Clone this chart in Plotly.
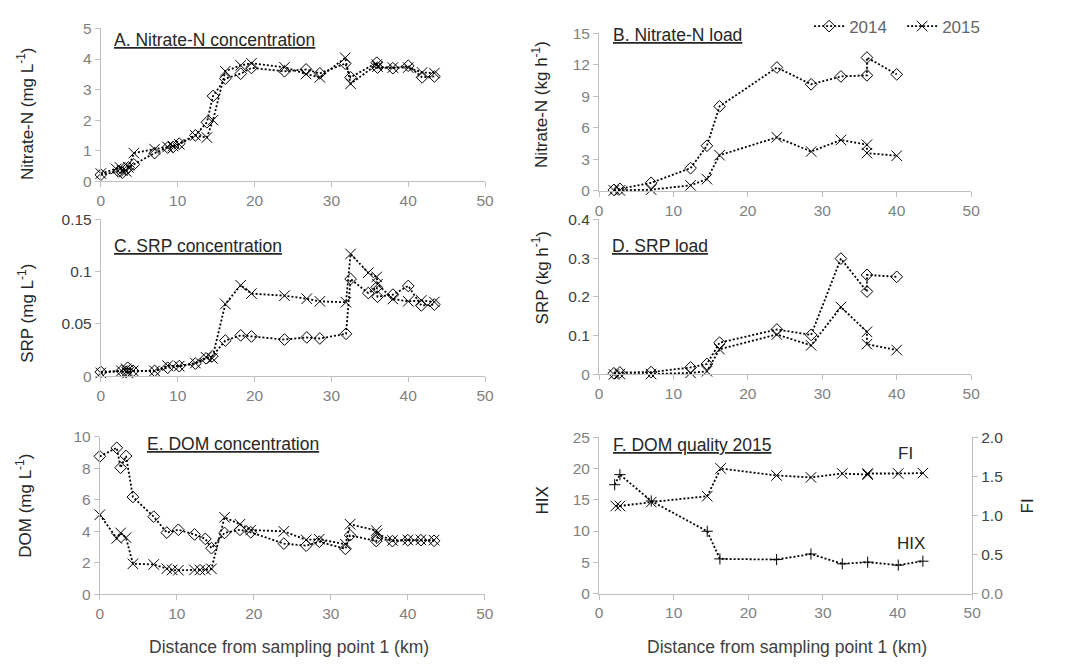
import plotly.graph_objects as go

W, H = 1074, 666

# ---------------- data ----------------
# A. Nitrate-N concentration (mg L-1)
a_x_2014 = [0, 2.3, 2.8, 3.3, 3.6, 4.3, 7.0, 8.7, 9.4, 10.2, 12.3, 13.8, 14.6, 16.2, 18.2, 19.6,
            23.9, 26.7, 28.5, 31.8, 32.5, 35.9, 36.0, 38.0, 40.0, 41.8, 43.4]
a_y_2014 = [0.21, 0.32, 0.28, 0.38, 0.45, 0.55, 0.92, 1.10, 1.12, 1.23, 1.50, 1.93, 2.79, 3.36, 3.52, 3.71,
            3.60, 3.66, 3.53, 3.85, 3.40, 3.88, 3.72, 3.70, 3.78, 3.40, 3.43]
a_x_2015 = [0, 2.0, 2.5, 2.8, 3.3, 3.6, 4.3, 7.0, 8.7, 9.4, 10.2, 12.3, 13.8, 14.6, 16.2, 18.2, 19.6,
            23.9, 26.7, 28.5, 31.8, 32.5, 35.9, 36.0, 38.0, 40.0, 41.8, 43.4]
a_y_2015 = [0.25, 0.40, 0.45, 0.35, 0.32, 0.45, 0.92, 1.05, 1.12, 1.15, 1.21, 1.50, 1.43, 2.00, 3.60, 3.79, 3.86,
            3.73, 3.51, 3.40, 4.04, 3.19, 3.82, 3.75, 3.72, 3.72, 3.56, 3.54]

# B. Nitrate-N load (kg h-1)
b_x = [2.0, 2.8, 7.0, 12.3, 14.5, 16.2, 23.9, 28.5, 32.5, 36.0, 36.0, 40.0]
b_y_2014 = [0.10, 0.20, 0.77, 2.17, 4.30, 8.05, 11.75, 10.15, 10.90, 11.00, 12.70, 11.10]
b_y_2015 = [0.05, 0.05, 0.12, 0.53, 1.12, 3.40, 5.10, 3.75, 4.85, 4.40, 3.60, 3.35]

# C. SRP concentration (mg L-1)
c_x_2014 = [0, 2.7, 3.3, 3.5, 4.2, 7.0, 8.7, 10.2, 12.3, 13.7, 14.5, 16.2, 18.2, 19.6,
            23.9, 26.8, 28.5, 31.9, 32.5, 34.8, 35.9, 36.0, 38.0, 40.0, 41.7, 43.4]
c_y_2014 = [0.004, 0.005, 0.004, 0.008, 0.005, 0.005, 0.008, 0.0095, 0.012, 0.017, 0.019, 0.034, 0.039, 0.038,
            0.035, 0.037, 0.036, 0.0405, 0.093, 0.0795, 0.085, 0.076, 0.078, 0.0863, 0.0677, 0.0685]
c_x_2015 = [0, 2.7, 3.3, 3.5, 4.2, 7.0, 8.7, 10.2, 12.3, 13.7, 14.5, 16.2, 18.2, 19.6,
            23.9, 26.8, 28.5, 31.9, 32.5, 34.8, 35.9, 36.0, 38.0, 40.0, 41.7, 43.4]
c_y_2015 = [0.003, 0.005, 0.007, 0.003, 0.005, 0.005, 0.010, 0.0095, 0.0125, 0.018, 0.017, 0.069, 0.087, 0.079,
            0.077, 0.0741, 0.0716, 0.0707, 0.117, 0.099, 0.095, 0.088, 0.0738, 0.0716, 0.0725, 0.071]

# D. SRP load (kg h-1)
d_x = [2.0, 2.8, 7.0, 12.3, 14.5, 16.2, 23.9, 28.5, 32.5, 36.0, 36.0, 40.0]
d_y_2014 = [0.003, 0.005, 0.006, 0.018, 0.027, 0.082, 0.116, 0.102, 0.299, 0.214, 0.257, 0.252]
d_y_2015 = [0.0, 0.001, 0.001, 0.004, 0.008, 0.065, 0.103, 0.075, 0.174, 0.110, 0.078, 0.063]

# E. DOM concentration (mg L-1)
e_x_2014 = [0, 2.2, 2.7, 3.4, 4.3, 7.0, 8.7, 10.2, 12.3, 13.7, 14.5, 16.2, 18.2, 19.6,
            23.9, 26.8, 28.5, 31.9, 32.5, 35.9, 36.0, 38.0, 40.0, 41.7, 43.4]
e_y_2014 = [8.76, 9.30, 8.04, 8.78, 6.18, 4.93, 3.92, 4.10, 3.80, 3.52, 2.93, 3.90, 4.10, 3.94,
            3.22, 3.09, 3.34, 2.89, 3.75, 3.38, 3.60, 3.38, 3.44, 3.44, 3.40]
e_x_2015 = [0, 2.2, 2.7, 3.4, 4.3, 7.0, 8.7, 9.4, 10.2, 12.3, 13.0, 13.7, 14.5, 16.2, 18.2, 19.6,
            23.9, 26.8, 28.5, 31.9, 32.5, 35.9, 36.0, 38.0, 40.0, 41.7, 43.4]
e_y_2015 = [5.05, 3.55, 3.90, 3.60, 1.94, 1.90, 1.63, 1.55, 1.53, 1.55, 1.55, 1.57, 1.62, 4.89, 4.45, 4.08,
            4.00, 3.46, 3.50, 3.18, 4.45, 4.05, 3.85, 3.42, 3.45, 3.46, 3.44]

# F. DOM quality 2015
hix_x = [2.1, 2.8, 7.0, 14.5, 16.2, 23.8, 28.4, 32.6, 36.0, 40.1, 43.4]
hix_y = [17.4, 19.0, 14.8, 9.96, 5.55, 5.45, 6.33, 4.77, 5.03, 4.56, 5.19]
fi_x = [2.25, 2.8, 7.0, 14.5, 16.3, 23.8, 28.4, 32.6, 36.0, 36.0, 40.1, 43.4]
fi_y = [1.12, 1.12, 1.17, 1.245, 1.60, 1.51, 1.485, 1.535, 1.52, 1.535, 1.535, 1.54]

# ---------------- styling ----------------
FONT = "Liberation Sans, Arial, sans-serif"
AXIS_GREY = "#bfbfbf"
TICK_TXT = "#7f7f7f"
DARK_TXT = "#404040"
TITLE_TXT = "#262626"
TICK_SIZE = 15.5

LINE = dict(color="black", width=1.8, dash="2px,2px")
DIAMOND = dict(symbol="diamond-open", size=9, color="black", line=dict(width=1, color="black"))
CROSS = dict(symbol="x-thin-open", size=10.5, color="black", line=dict(width=1, color="black"))
PLUS = dict(symbol="cross-thin-open", size=8, color="black", line=dict(width=1, color="black"))

# plot-area boxes in pixels: (left, right, top, bottom)
boxes = {
    1: (98, 487, 20, 176.7),
    2: (602.3, 979, 25, 186.7),
    3: (98, 487, 216, 376.7),
    4: (602.3, 979, 216, 375),
    5: (97, 486.7, 439, 600.7),
    6: (602.3, 980, 439.3, 600),
}

fig = go.Figure()


def add_series(k, x, y, marker, name=None, legend=False):
    suffix = "" if k == 1 else str(k)
    fig.add_trace(go.Scatter(
        x=x, y=y, mode="lines+markers", line=LINE, marker=marker,
        xaxis="x" + suffix, yaxis="y" + suffix, name=name,
        showlegend=legend, cliponaxis=False,
    ))


add_series(1, a_x_2014, a_y_2014, DIAMOND)
add_series(1, a_x_2015, a_y_2015, CROSS)
add_series(2, b_x, b_y_2014, DIAMOND, "2014", True)
add_series(2, b_x, b_y_2015, CROSS, "2015", True)
add_series(3, c_x_2014, c_y_2014, DIAMOND)
add_series(3, c_x_2015, c_y_2015, CROSS)
add_series(4, d_x, d_y_2014, DIAMOND)
add_series(4, d_x, d_y_2015, CROSS)
add_series(5, e_x_2014, e_y_2014, DIAMOND)
add_series(5, e_x_2015, e_y_2015, CROSS)
add_series(6, hix_x, hix_y, PLUS)
fig.add_trace(go.Scatter(x=fi_x, y=fi_y, mode="lines+markers", line=LINE, marker=CROSS,
                         xaxis="x6", yaxis="y7", showlegend=False, cliponaxis=False))


def axis_common(color=TICK_TXT):
    return dict(showline=True, linecolor=AXIS_GREY, linewidth=1, ticks="outside", ticklen=5,
                tickcolor=AXIS_GREY, showgrid=False, zeroline=False,
                tickfont=dict(family=FONT, size=TICK_SIZE, color=color))


def grey0(vals, fmt):
    txt = []
    for v in vals:
        s = fmt(v)
        txt.append('<span style="color:%s">%s</span>' % (TICK_TXT, s) if v == 0 else s)
    return txt


y_specs = {
    1: dict(range=[0, 5], tickvals=[0, 1, 2, 3, 4, 5]),
    2: dict(range=[0, 15], tickvals=[0, 3, 6, 9, 12, 15]),
    3: dict(range=[0, 0.15], tickvals=[0, 0.05, 0.1, 0.15],
            ticktext=grey0([0, 0.05, 0.1, 0.15], lambda v: "%g" % v), dark=True),
    4: dict(range=[0, 0.4], tickvals=[0, 0.1, 0.2, 0.3, 0.4],
            ticktext=grey0([0, 0.1, 0.2, 0.3, 0.4], lambda v: "%g" % v), dark=True),
    5: dict(range=[0, 10], tickvals=[0, 2, 4, 6, 8, 10]),
    6: dict(range=[0, 25], tickvals=[0, 5, 10, 15, 20, 25]),
}

layout = {}
for k, (l, r, t, b) in boxes.items():
    suffix = "" if k == 1 else str(k)
    xa = axis_common()
    xa.update(domain=[l / W, r / W], range=[0, 50], tickvals=[0, 10, 20, 30, 40, 50],
              anchor="y" + suffix)
    spec = dict(y_specs[k])
    dark = spec.pop("dark", False)
    ya = axis_common(DARK_TXT if dark else TICK_TXT)
    ya.update(domain=[1 - b / H, 1 - t / H], anchor="x" + suffix, **spec)
    layout["xaxis" + suffix] = xa
    layout["yaxis" + suffix] = ya

# FI on the right-hand axis of panel F
ya7 = axis_common(DARK_TXT)
ya7.update(overlaying="y6", side="right", anchor="x6", range=[0, 2],
           tickvals=[0, 0.5, 1.0, 1.5, 2.0],
           ticktext=grey0([0, 0.5, 1.0, 1.5, 2.0], lambda v: "%.1f" % v))
layout["yaxis7"] = ya7

fig.update_layout(**layout)

annotations = []


def label(text, px, py, size=17, color=TITLE_TXT, angle=0, xanchor="left"):
    annotations.append(dict(text=text, x=px / W, y=1 - py / H, xref="paper", yref="paper",
                            xanchor=xanchor, yanchor="middle", showarrow=False, textangle=angle,
                            font=dict(family=FONT, size=size, color=color)))


def underline(s):
    return '<span style="text-decoration:underline">%s</span>' % s


# panel titles
label(underline("A. Nitrate-N concentration"), 109, 32, size=17.5)
label(underline("B. Nitrate-N load"), 614, 27, size=17.5)
label(underline("C. SRP concentration"), 109, 243, size=17.5)
label(underline("D. SRP load"), 613, 243, size=17.5)
label(underline("E. DOM concentration"), 143, 446, size=17.5)
label(underline("F. DOM quality 2015"), 614, 447, size=17.5)

# series labels in panel F
label("FI", 913, 456, xanchor="center")
label("HIX", 918, 548, xanchor="center")

# y-axis titles
label("Nitrate-N (mg L<sup>-1</sup>)", 22, 108, angle=-90, xanchor="center")
label("Nitrate-N (kg h<sup>-1</sup>)", 543, 98, angle=-90, xanchor="center")
label("SRP (mg L<sup>-1</sup>)", 22, 312, angle=-90, xanchor="center")
label("SRP (kg h<sup>-1</sup>)", 543, 276, angle=-90, xanchor="center")
label("DOM (mg L<sup>-1</sup>)", 20, 510, angle=-90, xanchor="center")
label("HIX", 545, 504, angle=-90, xanchor="center")
label("FI", 1037, 510, angle=-90, xanchor="center")

# x-axis titles
label("Distance from sampling point 1 (km)", 288, 655, size=17.5, color=DARK_TXT, xanchor="center")
label("Distance from sampling point 1 (km)", 793, 655, size=17.5, color=DARK_TXT, xanchor="center")

fig.update_layout(
    annotations=annotations,
    width=W, height=H,
    margin=dict(l=0, r=0, t=0, b=0),
    paper_bgcolor="white", plot_bgcolor="white",
    font=dict(family=FONT, color=TITLE_TXT),
    legend=dict(orientation="h", x=815 / W, y=1 - 18 / H, xanchor="left", yanchor="middle",
                font=dict(family=FONT, size=17, color="#666666"),
                entrywidth=48, entrywidthmode="pixels", bgcolor="rgba(0,0,0,0)",
                itemclick=False, itemdoubleclick=False),
)

fig.write_html("out.html")
